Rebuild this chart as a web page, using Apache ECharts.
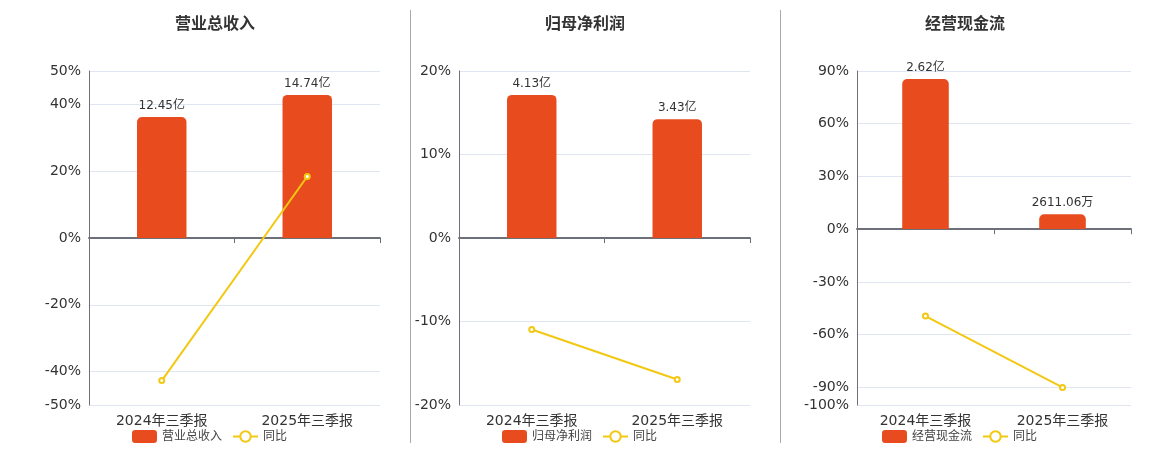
<!DOCTYPE html>
<html>
<head>
<meta charset="utf-8">
<script src="https://cdn.jsdelivr.net/npm/echarts@6/dist/echarts.min.js"></script>
<style>
  html, body { margin: 0; padding: 0; background: #fff; }
  #chart { width: 1160px; height: 450px; }
</style>
</head>
<body>
<div id="chart"></div>
<script>
var categories = ["2024年三季报", "2025年三季报"];

var revenue = [12.45, 14.74];
var revenueLabels = ["12.45亿", "14.74亿"];
var revenueYoy = [-42.7, 18.4];

var profit = [4.13, 3.43];
var profitLabels = ["4.13亿", "3.43亿"];
var profitYoy = [-10.95, -16.95];

var cashflow = [2.62, 0.2611];
var cashflowLabels = ["2.62亿", "2611.06万"];
var cashflowYoy = [-49.4, -90.0];

var FONT = "DejaVu Sans, Noto Sans CJK SC, sans-serif";
var BAR_COLOR = "#E84C1E";
var LINE_COLOR = "#F2C812";

// one panel per metric
var panels = [
  { title: "营业总收入", name: "营业总收入", bars: revenue, labels: revenueLabels, yoy: revenueYoy,
    left: 89, right: 780, center: 210, pctMin: -50, pctMax: 50, barMin: -17.2, barMax: 17.2 },
  { title: "归母净利润", name: "归母净利润", bars: profit, labels: profitLabels, yoy: profitYoy,
    left: 459, right: 410, center: 580, pctMin: -20, pctMax: 20, barMin: -4.82, barMax: 4.82 },
  { title: "经营现金流", name: "经营现金流", bars: cashflow, labels: cashflowLabels, yoy: cashflowYoy,
    left: 857, right: 29, center: 960, pctMin: -100, pctMax: 90, barMin: -3.07, barMax: 2.76 }
];

var option = {
  animation: false,
  textStyle: { fontFamily: FONT },
  title: [], legend: [], grid: [], xAxis: [], yAxis: [], series: [],
  graphic: [
    { type: "line", shape: { x1: 410.5, y1: 10, x2: 410.5, y2: 443 }, style: { stroke: "#aaa", lineWidth: 1 } },
    { type: "line", shape: { x1: 780.5, y1: 10, x2: 780.5, y2: 443 }, style: { stroke: "#aaa", lineWidth: 1 } }
  ]
};

panels.forEach(function (p, i) {
  option.title.push({
    text: p.title, left: p.center, top: 12, textAlign: "center",
    textStyle: { fontSize: 16, fontWeight: "bold", color: "#333", fontFamily: FONT }
  });
  option.legend.push({
    data: [p.name, "同比"], left: p.center - 83, top: 425,
    itemWidth: 25, itemHeight: 13, itemGap: 10,
    textStyle: { fontSize: 12, color: "#444", fontFamily: FONT }
  });
  option.grid.push({ left: p.left, right: p.right, top: 71, bottom: 45 });

  // axis drawn at zero with ticks
  option.xAxis.push({
    type: "category", gridIndex: i, data: categories,
    axisLine: { onZero: true, lineStyle: { color: "#6E7079", width: 2 } },
    axisTick: { show: true, lineStyle: { color: "#6E7079" } },
    axisLabel: { show: false }
  });
  // labels at the bottom
  option.xAxis.push({
    type: "category", gridIndex: i, data: categories, position: "bottom",
    axisLine: { show: false }, axisTick: { show: false },
    axisLabel: { fontSize: 14, color: "#333", margin: 9, fontFamily: FONT }
  });

  option.yAxis.push({
    type: "value", gridIndex: i, min: p.pctMin, max: p.pctMax,
    axisLine: { show: true, lineStyle: { color: "#6E7079" } },
    axisTick: { show: false },
    axisLabel: { fontSize: 14, color: "#333", formatter: "{value}%", fontFamily: FONT },
    splitLine: { lineStyle: { color: "#E0E6F1" } }
  });
  option.yAxis.push({
    type: "value", gridIndex: i, min: p.barMin, max: p.barMax, show: false,
    splitLine: { show: false }
  });

  option.series.push({
    name: p.name, type: "bar", xAxisIndex: i * 2, yAxisIndex: i * 2 + 1,
    data: p.bars, barWidth: "34%",
    itemStyle: { color: BAR_COLOR, borderRadius: [5, 5, 0, 0] },
    label: {
      show: true, position: "top", fontSize: 12, color: "#333", fontFamily: FONT,
      formatter: function (d) { return p.labels[d.dataIndex]; }
    }
  });
  option.series.push({
    name: "同比", type: "line", xAxisIndex: i * 2, yAxisIndex: i * 2,
    data: p.yoy, symbol: "emptyCircle", symbolSize: 5,
    lineStyle: { color: LINE_COLOR, width: 2 },
    itemStyle: { color: LINE_COLOR }
  });
});

var chart = echarts.init(document.getElementById("chart"));
chart.setOption(option);
</script>
</body>
</html>
